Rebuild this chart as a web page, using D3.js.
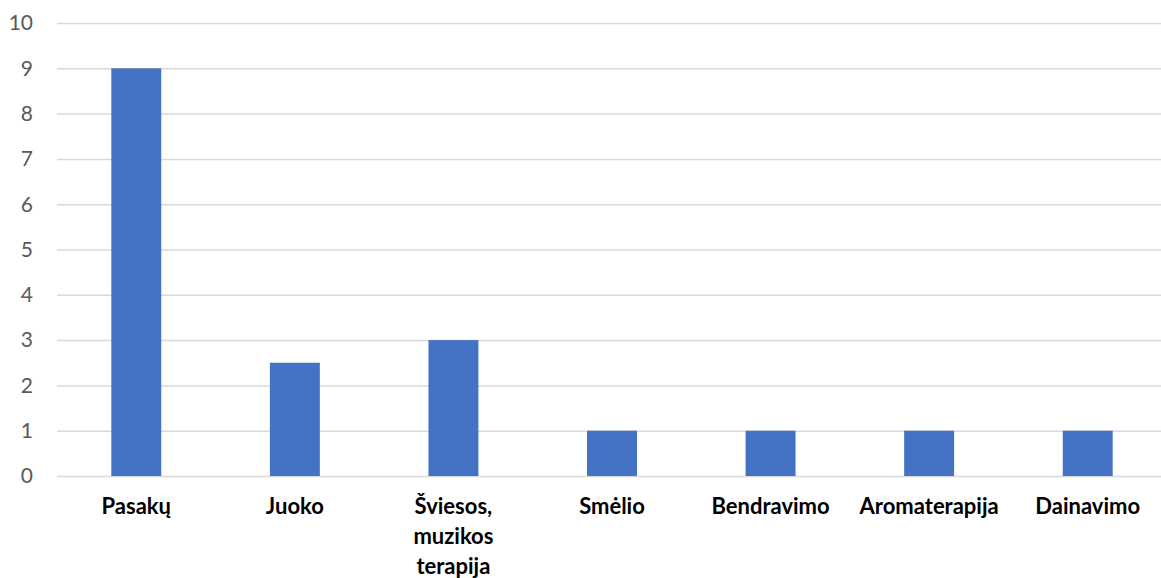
<!DOCTYPE html>
<html><head><meta charset="utf-8">
<script src="https://cdn.jsdelivr.net/npm/d3@7"></script>
<style>body{margin:0;background:#fff}</style>
</head><body>
<svg id="c" width="1161" height="578"></svg>
<script>
const categories = ["Pasakų","Juoko","Šviesos, muzikos terapija","Smėlio","Bendravimo","Aromaterapija","Dainavimo"];
const labelLines = [["Pasakų"],["Juoko"],["Šviesos,","muzikos","terapija"],["Smėlio"],["Bendravimo"],["Aromaterapija"],["Dainavimo"]];
const values = [9,2.5,3,1,1,1,1];
const yTicks = [0,1,2,3,4,5,6,7,8,9,10];

(function(){
const svg = d3.select("#c");
const mLeft = 57, mRight = 1167, mTop = 23, mBottom = 476;
const x = d3.scaleBand().domain(categories).range([mLeft,mRight]).paddingInner(0.685).paddingOuter(0.3425);
const y = d3.scaleLinear().domain([0,10]).range([mBottom,mTop]);

const g = svg.append("g");
g.selectAll("line.grid").data(yTicks).enter().append("line")
 .attr("x1",mLeft).attr("x2",1161).attr("y1",d=>y(d)+0.5).attr("y2",d=>y(d)+0.5)
 .attr("stroke","#d9d9d9").attr("stroke-width",1.5);

g.selectAll("text.yt").data(yTicks).enter().append("text")
 .attr("x",33).attr("y",d=>y(d)).attr("dy","0.35em").attr("text-anchor","end")
 .attr("font-family","Lato, 'Open Sans', sans-serif").attr("font-size",21).attr("fill","#595959")
 .text(d=>d);

g.selectAll("rect").data(values).enter().append("rect")
 .attr("x",(d,i)=>x(categories[i])).attr("width",x.bandwidth())
 .attr("y",d=>y(d)).attr("height",d=>y(0)-y(d)).attr("fill","#4472c4");

categories.forEach((c,i)=>{
  const t = g.append("text").attr("text-anchor","middle")
   .attr("font-family","Lato, 'Open Sans', sans-serif").attr("font-weight","bold")
   .attr("font-size",22).attr("fill","#000");
  labelLines[i].forEach((ln,j)=>{
    t.append("tspan").attr("x",x(c)+x.bandwidth()/2).attr("y",514+j*30).text(ln);
  });
});
})();
</script>
</body></html>
